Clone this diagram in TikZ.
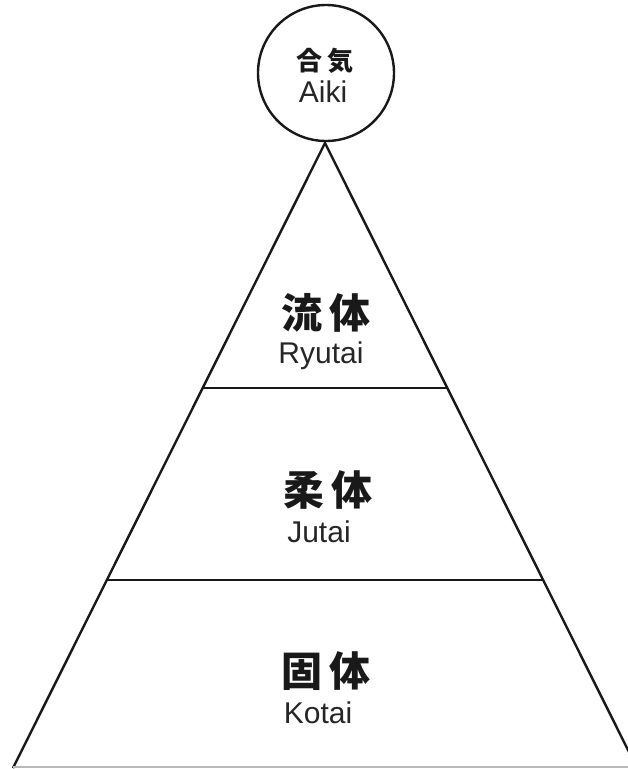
\documentclass[tikz,border=0pt]{standalone}
\usepackage{fontspec}
\setmainfont{Liberation Sans}
\newfontfamily\cjk{Noto Sans CJK JP}
\begin{document}
\begin{tikzpicture}[x=1pt,y=-1pt,
  edge/.style={line width=2.4pt, draw=black!90},
  base/.style={line width=1.5pt, draw=black!28},
  kanji/.style={font=\cjk\bfseries\fontsize{41}{41}\selectfont, inner sep=0pt, anchor=center, text=black!90},
  kanjismall/.style={font=\cjk\bfseries\fontsize{26}{26}\selectfont, inner sep=0pt, anchor=center, text=black!90},
  roman/.style={font=\fontsize{30}{30}\selectfont, inner sep=0pt, anchor=base, text=black!85}]
\useasboundingbox (0,0) rectangle (628,769);
\clip (0,0) rectangle (628,769);
% geometry
\coordinate (apex) at (325,143);
\coordinate (bl) at (13,768);
\coordinate (br) at (637,768);
\coordinate (d1l) at (202.7,388);
\coordinate (d1r) at (447.3,388);
\coordinate (d2l) at (107.5,580);
\coordinate (d2r) at (542.5,580);
\coordinate (gl) at (13,767);
\coordinate (gr) at (628,767);
% circle
\node[circle, edge, minimum size=136pt, inner sep=0pt] (aikicircle) at (326,73) {};
% triangle
\draw[edge] (bl) -- (apex) -- (br);
\draw[edge] (d1l) -- (d1r);
\draw[edge] (d2l) -- (d2r);
\draw[base] (gl) -- (gr);
% labels
\node[kanjismall] (aikik) at (325,61) {合\hspace{5pt}気};
\node[roman] (aiki) at (323,102) {Aiki};
\node[kanji] (ryutaik) at (326,313) {流\hspace{8pt}体};
\node[roman] (ryutai) at (321,363) {Ryutai};
\node[kanji] (jutaik) at (328,490) {柔\hspace{8pt}体};
\node[roman] (jutai) at (319,542) {Jutai};
\node[kanji] (kotaik) at (326,671) {固\hspace{8pt}体};
\node[roman] (kotai) at (318,723) {Kotai};
\end{tikzpicture}
\end{document}
